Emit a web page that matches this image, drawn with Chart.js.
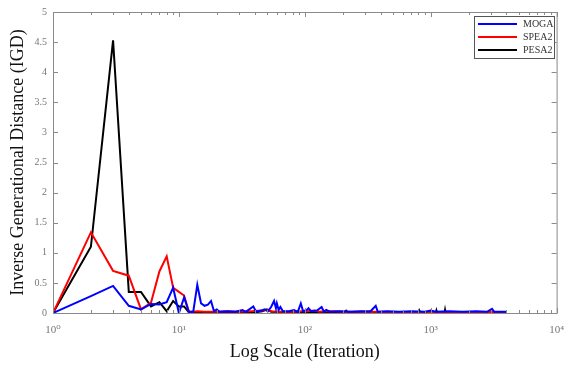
<!DOCTYPE html>
<html>
<head>
<meta charset="utf-8">
<script src="https://cdn.jsdelivr.net/npm/chart.js@4"></script>
<style>
  body { margin: 0; background: #fff; }
</style>
</head>
<body>
<canvas id="igd-grafica" width="575" height="369"></canvas>
<script>
// iteration numbers and IGD values
const mogaIter = [1,2,3,4,5,6,7,8,9,10,11,12,13,14,15,16,17,18,19,20,21,24,28,32,34,39,41,45,48,51,54,57,59,60,62,64,67,75,82,88,93,97,104,107,112,125,136,142,148,160,190,230,280,330,366,380,450,560,700,900,1000,1100,1400,1800,2300,2800,3070,3200,4000];
const mogaIGD  = [0,0.28,0.45,0.12,0.06,0.15,0.14,0.18,0.42,0.0,0.26,0.02,0.02,0.47,0.16,0.12,0.14,0.2,0.03,0.06,0.02,0.03,0.02,0.05,0.02,0.11,0.02,0.04,0.06,0.03,0.1,0.2,0.08,0.16,0.05,0.1,0.03,0.03,0.05,0.02,0.16,0.03,0.05,0.08,0.03,0.04,0.1,0.02,0.05,0.02,0.03,0.02,0.03,0.02,0.12,0.02,0.03,0.02,0.03,0.02,0.04,0.02,0.03,0.02,0.03,0.02,0.07,0.02,0.02];

const speaIter = [1,2,3,4,5,6,7,8,9,10,11,12,13,14,16,20,25,30,38,45,50,55,65,80,95,105,120,130,150,175,200,300,600,1200,4000];
const speaIGD  = [0,1.34,0.70,0.62,0.06,0.17,0.69,0.94,0.42,0.35,0.29,0.02,0.02,0.03,0.02,0.02,0.03,0.02,0.03,0.04,0.05,0.03,0.02,0.02,0.03,0.03,0.04,0.02,0.03,0.03,0.02,0.02,0.015,0.015,0.015];

const pesaIter = [1,2,3,4,5,6,7,8,9,10,11,12,20,40,46,50,54,100,205,213,220,340,350,800,810,820,1100,1110,1120,1290,1300,1310,4000];
const pesaIGD  = [0,1.10,4.53,0.35,0.35,0.11,0.18,0.03,0.20,0.11,0.11,0.01,0.01,0.01,0.03,0.06,0.02,0.01,0.01,0.04,0.01,0.03,0.01,0.01,0.04,0.01,0.01,0.04,0.01,0.01,0.05,0.01,0.01];

const seriesNames = ['MOGA', 'SPEA2', 'PESA2'];
const seriesColors = ['#0000ff', '#ff0000', '#000000'];
const xMajor = [1, 10, 100, 1000, 10000];
const yTicks = [0,0.5,1,1.5,2,2.5,3,3.5,4,4.5,5];
const sup = ['\u2070','\u00b9','\u00b2','\u00b3','\u2074'];

const serif = '"Liberation Serif", "DejaVu Serif", serif';

function puntos(xs, ys) {
  return xs.map((x, i) => ({ x: x, y: ys[i] }));
}

// box with inward ticks on all four sides, like the original figure
const marco = {
  id: 'marco',
  afterDraw(chart) {
    const ctx = chart.ctx;
    const a = chart.chartArea;
    const xs = chart.scales.x;
    const ys = chart.scales.y;
    ctx.save();
    ctx.strokeStyle = '#8a8a8a';
    ctx.lineWidth = 1;
    ctx.strokeRect(a.left + 0.5, a.top + 0.5, a.right - a.left, a.bottom - a.top);
    ctx.beginPath();
    for (let d = 0; d < 4; d++) {
      for (let m = 1; m <= 10; m++) {
        const v = Math.pow(10, d) * m;
        const px = Math.round(xs.getPixelForValue(v)) + 0.5;
        const len = (m === 1 || m === 10) ? 5 : 3;
        ctx.moveTo(px, a.bottom); ctx.lineTo(px, a.bottom - len);
        ctx.moveTo(px, a.top); ctx.lineTo(px, a.top + len);
      }
    }
    yTicks.forEach(v => {
      const py = Math.round(ys.getPixelForValue(v)) + 0.5;
      ctx.moveTo(a.left, py); ctx.lineTo(a.left + 5, py);
      ctx.moveTo(a.right, py); ctx.lineTo(a.right - 5, py);
    });
    ctx.stroke();

    // legend
    const lx = 474, ly = 16, lw = 80, lh = 42;
    ctx.fillStyle = '#fff';
    ctx.fillRect(lx, ly, lw, lh);
    ctx.strokeStyle = '#555';
    ctx.strokeRect(lx + 0.5, ly + 0.5, lw, lh);
    ctx.font = '10px ' + serif;
    ctx.textBaseline = 'middle';
    seriesNames.forEach((n, i) => {
      const y = ly + 8 + i * 13;
      ctx.strokeStyle = seriesColors[i];
      ctx.lineWidth = 2;
      ctx.beginPath();
      ctx.moveTo(lx + 4, y); ctx.lineTo(lx + 43, y);
      ctx.stroke();
      ctx.fillStyle = '#333';
      ctx.fillText(n, lx + 49, y);
    });
    ctx.restore();
  }
};

const ctx = document.getElementById('igd-grafica').getContext('2d');
const myChart = new Chart(ctx, {
  type: 'line',
  data: {
    datasets: [
      { label: seriesNames[0], data: puntos(mogaIter, mogaIGD) },
      { label: seriesNames[1], data: puntos(speaIter, speaIGD) },
      { label: seriesNames[2], data: puntos(pesaIter, pesaIGD) }
    ].map((d, i) => Object.assign(d, {
      borderColor: seriesColors[i],
      borderWidth: 2,
      pointRadius: 0,
      tension: 0,
      fill: false
    }))
  },
  options: {
    responsive: false,
    animation: false,
    layout: { padding: { left: 0, right: 12, top: 7, bottom: 0 } },
    scales: {
      x: {
        type: 'logarithmic',
        min: 1,
        max: 10000,
        afterBuildTicks: s => { s.ticks = xMajor.map(v => ({ value: v })); },
        afterFit: s => { s.height = 56; },
        grid: { display: false, drawTicks: false },
        border: { display: false },
        ticks: {
          padding: 11,
          color: '#777',
          font: { family: serif, size: 11 },
          maxRotation: 0,
          callback: v => '10' + sup[Math.round(Math.log10(v))]
        },
        title: {
          display: true,
          text: 'Log Scale (Iteration)',
          color: '#111',
          font: { family: serif, size: 18 },
          padding: { top: 0, bottom: 6 }
        }
      },
      y: {
        min: 0,
        max: 5,
        afterBuildTicks: s => { s.ticks = yTicks.map(v => ({ value: v })); },
        afterFit: s => { s.width = 53; },
        grid: { display: false, drawTicks: false },
        border: { display: false },
        ticks: {
          padding: 6,
          color: '#777',
          font: { family: serif, size: 10 },
          callback: v => String(v)
        },
        title: {
          display: true,
          text: 'Inverse Generational Distance (IGD)',
          color: '#111',
          font: { family: serif, size: 18 },
          padding: { top: 7, bottom: 0 }
        }
      }
    },
    plugins: {
      legend: { display: false },
      tooltip: { enabled: false }
    }
  },
  plugins: [marco]
});
</script>
</body>
</html>
